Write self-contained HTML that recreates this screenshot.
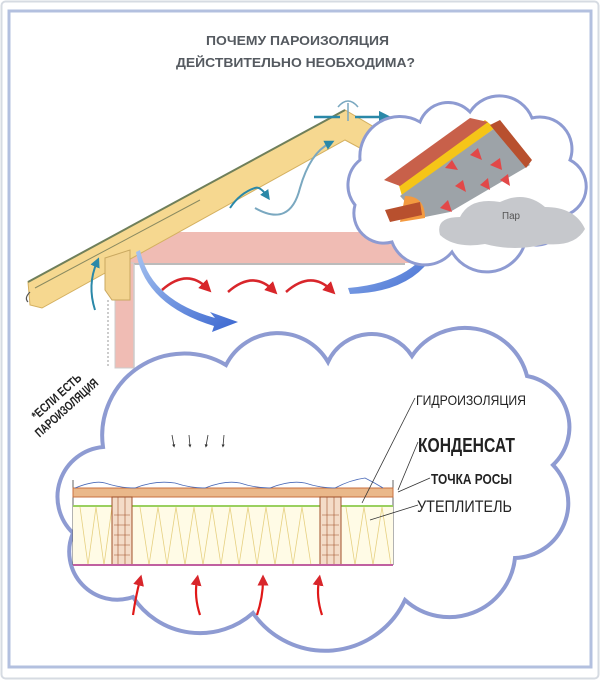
<!DOCTYPE html>
<html><head><meta charset="utf-8"><style>
html,body{margin:0;padding:0;background:#fff;width:600px;height:680px;overflow:hidden}
svg{display:block}
text{font-family:"Liberation Sans",sans-serif}
</style></head><body>
<svg width="600" height="680" viewBox="0 0 600 680" xmlns="http://www.w3.org/2000/svg">
<defs>
<marker id="rh" markerWidth="5" markerHeight="5" refX="2.5" refY="2.5" orient="auto"><path d="M0,0 L5,2.5 L0,5 z" fill="#d8262b"/></marker>
<marker id="th" markerWidth="5" markerHeight="5" refX="2.5" refY="2.5" orient="auto"><path d="M0,0 L5,2.5 L0,5 z" fill="#2a88a8"/></marker>
<marker id="kh" markerWidth="4" markerHeight="4" refX="2" refY="2" orient="auto"><path d="M0,0 L4,2 L0,4 z" fill="#333"/></marker>
<linearGradient id="bg1" x1="0" y1="0" x2="1" y2="1"><stop offset="0" stop-color="#a8c4f0"/><stop offset="1" stop-color="#3a66d0"/></linearGradient>
</defs>
<rect x="1.5" y="1.5" width="597" height="677" rx="4" fill="#fff" stroke="#d6dbe2" stroke-width="2"/>
<rect x="9" y="11" width="582" height="656" fill="none" stroke="#b3c0df" stroke-width="3"/>

<text x="206" y="45" textLength="183" lengthAdjust="spacingAndGlyphs" font-size="12.5" font-weight="bold" fill="#555a60">ПОЧЕМУ ПАРОИЗОЛЯЦИЯ</text>
<text x="176" y="67" textLength="239" lengthAdjust="spacingAndGlyphs" font-size="12.5" font-weight="bold" fill="#555a60">ДЕЙСТВИТЕЛЬНО НЕОБХОДИМА?</text>

<rect x="119" y="232" width="293" height="31" fill="#f0bcb4"/>
<rect x="115" y="263" width="19" height="105" fill="#f0bcb4" stroke="#ccc" stroke-width="1"/>
<line x1="134" y1="264" x2="405" y2="264" stroke="#bbb" stroke-width="2"/>
<line x1="134" y1="264" x2="134" y2="368" stroke="#ccc" stroke-width="1.5"/>
<line x1="108" y1="300" x2="108" y2="368" stroke="#999" stroke-width="1" stroke-dasharray="2,2"/>

<polygon points="28,282 345,110 410,148 410,175 345,140 42,308 30,305" fill="#f6d890" stroke="#d4b060" stroke-width="1"/>
<line x1="28" y1="282" x2="345" y2="110" stroke="#6f7f5a" stroke-width="2"/>
<line x1="35" y1="288" x2="200" y2="200" stroke="#8a8a60" stroke-width="1"/>
<polygon points="105,258 130,250 130,300 112,300 105,290" fill="#f3d490" stroke="#c9a860"/>
<path d="M30,292 q-6,6 -2,10" fill="none" stroke="#555" stroke-width="1.2"/>

<path d="M95,310 q-8,-25 2,-48" fill="none" stroke="#2a88a8" stroke-width="2" marker-end="url(#th)"/>
<path d="M230,208 q10,-15 25,-20 q5,-2 12,8" fill="none" stroke="#2a88a8" stroke-width="2" marker-end="url(#th)"/>
<path d="M255,208 q35,20 45,-20 q10,-35 30,-45" fill="none" stroke="#7aa8c0" stroke-width="2" marker-end="url(#th)"/>
<path d="M340,117 h-26 M355,117 h30" stroke="#2a88a8" stroke-width="2.5" marker-end="url(#th)"/>
<path d="M338,107 q10,-12 20,0 M348,103 v18" stroke="#7aa8c0" stroke-width="1.5" fill="none"/>

<path d="M162,290 q25,-22 45,-2" fill="none" stroke="#d8262b" stroke-width="2.5" marker-end="url(#rh)"/>
<path d="M228,292 q25,-22 45,-2" fill="none" stroke="#d8262b" stroke-width="2.5" marker-end="url(#rh)"/>
<path d="M286,292 q25,-22 45,-2" fill="none" stroke="#d8262b" stroke-width="2.5" marker-end="url(#rh)"/>

<path d="M140,250 Q150,300 215,318 L210,312 L238,322 L212,332 L214,326 Q145,305 136,252 z" fill="url(#bg1)"/>
<path d="M348,288 Q420,282 438,232 L432,234 L446,214 L448,238 L442,235 Q425,292 350,294 z" fill="url(#bg1)"/>

<path d="M355,205 A32,32 0 0 1 360,160 A40,40 0 0 1 420,122 A30,30 0 0 1 470,112 A35,35 0 0 1 532,118 A32,32 0 0 1 570,160 A30,30 0 0 1 566,215 A30,30 0 0 1 525,243 A40,40 0 0 1 452,252 A35,35 0 0 1 392,242 A30,30 0 0 1 355,205 z" fill="#fff" stroke="#8e9bd2" stroke-width="3"/>
<path d="M440,235 q-5,-18 20,-18 q10,-20 40,-15 q25,-12 45,5 q30,0 40,22 q-10,18 -40,15 q-30,8 -60,0 q-30,5 -45,-9 z" fill="#c6c8cc"/>
<text x="502" y="219" font-size="10" fill="#555" textLength="18" lengthAdjust="spacingAndGlyphs">Пар</text>
<polygon points="398,182 485,120 495,128 402,196" fill="#f5c518"/>
<polygon points="384,180 470,118 488,122 400,186" fill="#c8604a"/>
<polygon points="400,196 495,128 530,165 450,212 420,218" fill="#9da3a8"/>
<path d="M405,196 q20,0 20,22 L400,222 z" fill="#f39a40"/>
<polygon points="385,210 420,202 422,215 390,222" fill="#b8502e"/>
<polygon points="490,125 500,120 532,160 526,168" fill="#b8502e"/>
<g fill="#e24848">
<polygon points="445,168 452,160 458,170"/><polygon points="470,155 478,148 482,160"/>
<polygon points="490,165 500,158 502,170"/><polygon points="455,186 463,180 466,192"/>
<polygon points="480,185 488,178 490,190"/><polygon points="440,208 448,200 452,212"/>
<polygon points="500,180 508,174 510,186"/>
</g>

<path d="M103,447 A82,82 0 0 1 226,365 A58,58 0 0 1 328,362 A48,48 0 0 1 412,356 A64,64 0 0 1 527,376 A52,52 0 0 1 553,465 A55,55 0 0 1 515,558 A66,66 0 0 1 405,600 A88,88 0 0 1 253,613 A80,80 0 0 1 133,597 A48,48 0 0 1 73,533 A50,50 0 0 1 103,447 z" fill="#fff" stroke="#8e9bd2" stroke-width="4"/>

<text transform="translate(64,405) rotate(-42)" text-anchor="middle" font-size="12.5" font-weight="bold" fill="#222"><tspan x="0" y="-7" textLength="62" lengthAdjust="spacingAndGlyphs">*ЕСЛИ ЕСТЬ</tspan><tspan x="0" y="8" textLength="80" lengthAdjust="spacingAndGlyphs">ПАРОИЗОЛЯЦИЯ</tspan></text>

<g stroke="#333" stroke-width="0.8" marker-end="url(#kh)">
<line x1="172" y1="435" x2="174" y2="446"/><line x1="189" y1="435" x2="190" y2="446"/>
<line x1="208" y1="435" x2="206" y2="446"/><line x1="224" y1="435" x2="223" y2="446"/>
</g>

<line x1="73" y1="480" x2="73" y2="565" stroke="#666" stroke-width="1"/>
<line x1="393" y1="480" x2="393" y2="565" stroke="#666" stroke-width="1"/>
<rect x="73" y="488" width="320" height="9" fill="#eab88a" stroke="#c87040" stroke-width="1"/>
<path d="M75,488 q20,-8 30,-5 q15,5 30,5 q20,-8 40,-5 q15,5 30,5 q20,-8 35,-5 q15,5 30,5 q20,-8 35,-5 q15,5 30,5 q15,-8 30,-10 q10,5 18,10" fill="none" stroke="#4a6ab8" stroke-width="0.8"/>
<rect x="73" y="505" width="320" height="2" fill="#9ad060"/>
<rect x="73" y="507" width="320" height="58" fill="#fffbe6"/>
<path d="M80,507 l8,58 l8,-58 l8,58 l8,-58 M140,507 l9,58 l9,-58 l9,58 l9,-58 l9,58 l9,-58 l9,58 l9,-58 l9,58 l9,-58 l9,58 l9,-58 l9,58 l9,-58 l9,58 l9,-58 l9,58 l9,-58 l9,58 M346,507 l9,58 l9,-58 l9,58 l9,-58 l9,58" fill="none" stroke="#e6d080" stroke-width="0.8"/>
<rect x="112" y="497" width="20" height="68" fill="#f4dcc8" stroke="#a0502a" stroke-width="1"/>
<rect x="320" y="497" width="21" height="68" fill="#f4dcc8" stroke="#a0502a" stroke-width="1"/>
<path d="M114,515 h16 M114,525 h16 M114,535 h16 M114,545 h16 M114,555 h16 M118,497 v68 M125,497 v68 M322,515 h17 M322,525 h17 M322,535 h17 M322,545 h17 M322,555 h17 M327,497 v68 M334,497 v68" stroke="#a0502a" stroke-width="0.6"/>
<rect x="73" y="564" width="320" height="2" fill="#c060a0"/>

<g fill="none" stroke="#e01818" stroke-width="2.2" marker-end="url(#rh)">
<path d="M133,615 q3,-20 7,-35"/><path d="M200,615 q-6,-18 -3,-35"/>
<path d="M257,615 q6,-18 6,-35"/><path d="M322,615 q-6,-18 -3,-35"/>
</g>

<g stroke="#333" stroke-width="0.8" fill="none">
<line x1="415" y1="398" x2="362" y2="503"/>
<line x1="418" y1="442" x2="398" y2="490"/>
<line x1="430" y1="478" x2="398" y2="492"/>
<line x1="418" y1="505" x2="370" y2="520"/>
</g>
<g fill="#222">
<text x="416" y="405" font-size="14" textLength="110" lengthAdjust="spacingAndGlyphs">ГИДРОИЗОЛЯЦИЯ</text>
<text x="418" y="452" font-size="20" font-weight="bold" textLength="97" lengthAdjust="spacingAndGlyphs">КОНДЕНСАТ</text>
<text x="431" y="484" font-size="15" font-weight="bold" textLength="81" lengthAdjust="spacingAndGlyphs">ТОЧКА РОСЫ</text>
<text x="417" y="512" font-size="17" textLength="95" lengthAdjust="spacingAndGlyphs">УТЕПЛИТЕЛЬ</text>
</g>
</svg>
</body></html>
